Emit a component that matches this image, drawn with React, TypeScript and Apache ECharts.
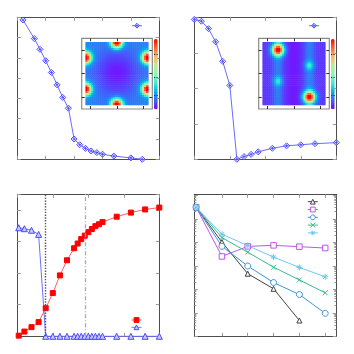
import React, { useEffect, useRef } from 'react';
import * as echarts from 'echarts';

// ---------- Panel 1 (top-left) ----------
const p1X = [0.2, 0.6, 0.8, 1.0, 1.2, 1.4, 1.6, 1.8, 2.0, 2.2, 2.4, 2.6, 2.8, 3.0, 3.4, 4.0, 4.4];
const p1Y = [6.87, 5.95, 5.42, 4.86, 4.28, 3.67, 3.05, 2.52, 1.0, 0.72, 0.54, 0.41, 0.33, 0.25, 0.16, 0.07, 0.0];

// ---------- Panel 2 (top-right) ----------
const p2X = [0, 0.2, 0.4, 0.6, 0.8, 1.0, 1.2, 1.4, 1.6, 1.8, 2.2, 2.6, 3.0, 3.4, 4.0];
const p2Y = [3.94, 3.89, 3.68, 3.31, 2.76, 2.08, 0.0, 0.075, 0.14, 0.21, 0.31, 0.38, 0.41, 0.44, 0.47];

// ---------- Panel 3 (bottom-left) ----------
const p3X = [0.04, 0.2, 0.4, 0.6, 0.8, 1.0, 1.2, 1.4, 1.6, 1.7, 1.8, 1.9, 2.0, 2.1, 2.2, 2.3, 2.4, 2.8, 3.2, 3.6, 4.0];
const p3Red = [0.02, 0.15, 0.29, 0.45, 0.89, 1.37, 1.93, 2.41, 2.79, 2.94, 3.08, 3.19, 3.3, 3.4, 3.49, 3.55, 3.62, 3.79, 3.92, 4.02, 4.08];
const p3Blue = [3.44, 3.41, 3.36, 3.23, 0, 0, 0, 0, 0, 0, 0, 0, 0, 0, 0, 0, 0, 0, 0, 0, 0];
const p3VLines = [0.8, 1.9];

// ---------- Panel 4 (bottom-right, log y) ----------
const p4X = [1, 2, 3, 4, 5, 6];
const p4Black = [0.31, 0.0102, 4.6e-4, 1.05e-4, 4.7e-6];
const p4Purple = [0.31, 2.5e-3, 6.7e-3, 7.4e-3, 6.5e-3, 5.7e-3];
const p4Blue = [0.31, 6.7e-3, 9.8e-4, 1.94e-4, 6.0e-5, 9.5e-6];
const p4Green = [0.31, 0.0158, 3.8e-3, 8.7e-4, 2.5e-4, 7.1e-5];
const p4Sky = [0.31, 0.022, 7.2e-3, 2.35e-3, 8.5e-4, 3.4e-4];
const p4XTicks = [2, 3, 4, 5, 6];
const p4Decades = [-6, -5, -4, -3, -2, -1, 0];

// ---------- Inset heat maps: features ----------
// spots: [u (0 left .. 1 right), v (0 top .. 1 bottom), amplitude, radius]
// bands: [u, amplitude, width]
const HEAT_N = 32;
const inset1Base = 0.18;
const inset1Spots = [
  [0.5, 0.0, 1.0, 0.064], [0.5, 1.0, 1.0, 0.064],
  [0.0, 0.25, 1.0, 0.064], [0.0, 0.75, 1.0, 0.064],
  [1.0, 0.25, 1.0, 0.064], [1.0, 0.75, 1.0, 0.064],
  [0.5, 0.5, -0.15, 0.26],
];
const inset1Bands: number[][] = [];
const inset2Base = 0.07;
const inset2Spots = [
  [0.25, 0.125, 0.95, 0.065], [0.75, 0.875, 0.95, 0.065],
  [0.75, 0.375, 0.22, 0.05], [0.25, 0.625, 0.2, 0.05],
];
const inset2Bands = [[0.25, 0.1, 0.055], [0.75, 0.1, 0.055], [0.5, -0.04, 0.08]];
const rainbow = ['#8000ff', '#4062fa', '#00b4ec', '#40ecd4', '#80ffb4', '#bfec8e', '#ffb462', '#ff6232', '#ff0000'];
const cbTicks = [0.2, 0.45, 0.78];

function buildField(base: number, spots: number[][], bands: number[][]) {
  const out: number[][] = [];
  for (let i = 0; i < HEAT_N; i++) {
    for (let j = 0; j < HEAT_N; j++) {
      const u = (i + 0.5) / HEAT_N;
      const v = (j + 0.5) / HEAT_N;
      let val = base;
      for (const [su, sv, a, s] of spots) val += a * Math.exp(-((u - su) ** 2 + (v - sv) ** 2) / (2 * s * s));
      for (const [bu, a, s] of bands) val += a * Math.exp(-((u - bu) ** 2) / (2 * s * s));
      out.push([i, j, Math.max(0, Math.min(1, val))]);
    }
  }
  return out;
}

const FRAME = '#4d4d4d';
const TICK = '#9a9a9a';

function frameAxis(gridIndex: number, position: string, min: number, max: number, interval?: number, custom?: number[], extra: any = {}) {
  const tick: any = { show: true, inside: true, length: 3.5, lineStyle: { color: TICK, width: 1 } };
  if (custom) tick.customValues = custom;
  return {
    type: 'value', gridIndex, position, min, max, interval,
    axisLine: { show: true, onZero: false, lineStyle: { color: FRAME, width: 1 } },
    axisTick: tick,
    axisLabel: { show: false },
    splitLine: { show: false },
    ...extra,
  };
}

function buildOption() {
  const grids: any[] = [];
  const xAxes: any[] = [];
  const yAxes: any[] = [];
  const addGrid = (g: any) => { grids.push({ outerBoundsMode: 'none', containLabel: false, ...g }); return grids.length - 1; };
  const addX = (a: any) => { xAxes.push(a); return xAxes.length - 1; };
  const addY = (a: any) => { yAxes.push(a); return yAxes.length - 1; };

  const S = 142;
  const L1 = 17.3, L2 = 194.3, T1 = 17.3, T2 = 194.3;

  const g1 = addGrid({ left: L1, top: T1, width: S, height: S });
  const g2 = addGrid({ left: L2, top: T1, width: S, height: S });
  const g3 = addGrid({ left: L1, top: T2, width: S, height: S });
  const g4 = addGrid({ left: L2, top: T2, width: S, height: S });

  const x1 = addX(frameAxis(g1, 'bottom', 0, 5, 1)); addX(frameAxis(g1, 'top', 0, 5, 1));
  const y1 = addY(frameAxis(g1, 'left', 0, 7, 1)); addY(frameAxis(g1, 'right', 0, 7, 1));
  const x2 = addX(frameAxis(g2, 'bottom', 0, 4, 1)); addX(frameAxis(g2, 'top', 0, 4, 1));
  const y2 = addY(frameAxis(g2, 'left', 0, 4, 1)); addY(frameAxis(g2, 'right', 0, 4, 1));
  const x3 = addX(frameAxis(g3, 'bottom', 0, 4, 1)); addX(frameAxis(g3, 'top', 0, 4, 1));
  const y3 = addY(frameAxis(g3, 'left', 0, 4.5, 1)); addY(frameAxis(g3, 'right', 0, 4.5, 1));
  const x4 = addX(frameAxis(g4, 'bottom', 0.93, 6.43, undefined, p4XTicks)); addX(frameAxis(g4, 'top', 0.93, 6.43, undefined, p4XTicks));
  const y4 = addY({ type: 'log', logBase: 10, gridIndex: g4, min: 1e-6, max: 1.1, position: 'left', axisLine: { show: false }, axisTick: { show: false }, axisLabel: { show: false }, splitLine: { show: false } });
  const topLog = Math.log10(1.1);
  const minors: number[] = [];
  for (let d = -6; d < 0; d++) for (let k = 2; k <= 9; k++) minors.push(d + Math.log10(k));
  const minorTick = { show: true, inside: true, length: 2, lineStyle: { color: TICK, width: 1 }, customValues: minors };
  addY(frameAxis(g4, 'left', -6, topLog, undefined, p4Decades));
  addY(frameAxis(g4, 'right', -6, topLog, undefined, p4Decades));
  addY(frameAxis(g4, 'left', -6, topLog, undefined, undefined, { axisLine: { show: false, onZero: false }, axisTick: minorTick }));
  addY(frameAxis(g4, 'right', -6, topLog, undefined, undefined, { axisLine: { show: false, onZero: false }, axisTick: minorTick }));

  const insetAxes = (left: number) => {
    const frameL = left + 64.4, frameT = 38.3;
    const gf = addGrid({ left: frameL, top: frameT, width: 70.6, height: 70.7, show: true, backgroundColor: '#ffffff', borderColor: '#8a8a8a', borderWidth: 1.2 });
    const inTick = (pos: string, isX: boolean) => ({
      type: 'value', gridIndex: gf, position: pos, min: -0.564, max: 0.564, z: 6,
      axisLine: { show: false, onZero: false },
      axisTick: { show: true, inside: true, length: 3, lineStyle: { color: '#333', width: 1 }, customValues: isX ? [-0.42, 0, 0.42] : [-0.38, 0, 0.38] },
      axisLabel: { show: false }, splitLine: { show: false },
    });
    addX(inTick('bottom', true)); addX(inTick('top', true));
    addY(inTick('left', false)); addY(inTick('right', false));
    const gh = addGrid({ left: frameL + 4, top: frameT + 4, width: 62.6, height: 62.7 });
    const cats = Array.from({ length: HEAT_N }, (_, i) => i);
    const hx = addX({ type: 'category', gridIndex: gh, data: cats, show: false });
    const hy = addY({ type: 'category', gridIndex: gh, data: cats, show: false, inverse: true });
    const cbL = frameL + 72.3;
    const gc = addGrid({ left: cbL, top: 39, width: 3.7, height: 70.3 });
    addX({ type: 'value', gridIndex: gc, min: 0, max: 1, show: false });
    const cbAxis = (pos: string) => ({
      type: 'value', gridIndex: gc, position: pos, min: 0, max: 1, z: 6,
      axisLine: { show: false, onZero: false },
      axisTick: { show: true, inside: true, length: 1.2, lineStyle: { color: '#333', width: 1 }, customValues: cbTicks },
      axisLabel: { show: false }, splitLine: { show: false },
    });
    addY(cbAxis('left')); addY(cbAxis('right'));
    return { hx, hy, cbL };
  };
  const in1 = insetAxes(L1);
  const in2 = insetAxes(L2);

  const zip = (xs: number[], ys: number[]) => ys.map((y, i) => [xs[i], y]);
  const styles: Record<string, { fill: string; stroke: string; line: string }> = {};
  const lineSeries = (name: string, xi: number, yi: number, data: number[][], fill: string, stroke: string, lineColor: string, symbol: string, size: number) => {
    styles[name] = { fill, stroke, line: lineColor };
    return {
      name, type: 'line', xAxisIndex: xi, yAxisIndex: yi, data, symbol, symbolSize: size,
      clip: false, silent: true,
      lineStyle: { color: lineColor, width: 1 },
      itemStyle: { color: fill, borderColor: stroke, borderWidth: 1 },
    };
  };

  const diamondPlus = 'path://M5,0L10,5L5,10L0,5Z M5,2.6L5,7.4 M2.6,5L7.4,5';
  const crossPath = 'path://M0,0L10,10 M10,0L0,10';
  const starPath = 'path://M5,0L5,10 M0,5L10,5 M1.5,1.5L8.5,8.5 M8.5,1.5L1.5,8.5';
  const W = '#ffffff';

  const series: any[] = [
    lineSeries('a1', x1, y1, zip(p1X, p1Y), 'rgba(255,255,255,0.4)', '#4848ff', '#6a6aff', diamondPlus, 6),
    lineSeries('a2', x2, y2, zip(p2X, p2Y), 'rgba(255,255,255,0.4)', '#4848ff', '#6a6aff', diamondPlus, 6),
    {
      ...lineSeries('r3', x3, y3, zip(p3X, p3Red), '#ff0000', '#ff0000', '#ff6060', 'rect', 5),
      markLine: {
        silent: true, symbol: 'none', label: { show: false },
        data: [
          { xAxis: p3VLines[0], lineStyle: { color: '#555555', type: 'dotted', width: 1.4 } },
          { xAxis: p3VLines[1], lineStyle: { color: '#aaaaaa', type: [4, 2, 1, 2], width: 1.3 } },
        ],
      },
    },
    lineSeries('b3', x3, y3, zip(p3X, p3Blue), '#c8c8ff', '#4a4aff', '#7070ff', 'triangle', 6),
    lineSeries('k4', x4, y4, zip(p4X, p4Black), W, '#404040', '#404040', 'triangle', 5),
    lineSeries('m4', x4, y4, zip(p4X, p4Purple), W, '#bb55ee', '#bb55ee', 'rect', 5.5),
    lineSeries('c4', x4, y4, zip(p4X, p4Blue), W, '#3d95d6', '#3d95d6', 'circle', 6),
    lineSeries('g4', x4, y4, zip(p4X, p4Green), '#38bb8c', '#38bb8c', '#38bb8c', crossPath, 5),
    lineSeries('s4', x4, y4, zip(p4X, p4Sky), '#70c8f0', '#70c8f0', '#70c8f0', starPath, 6),
    { type: 'heatmap', xAxisIndex: in1.hx, yAxisIndex: in1.hy, data: buildField(inset1Base, inset1Spots, inset1Bands), silent: true, progressive: 0, z: 2 },
    { type: 'heatmap', xAxisIndex: in2.hx, yAxisIndex: in2.hy, data: buildField(inset2Base, inset2Spots, inset2Bands), silent: true, progressive: 0, z: 2 },
  ];

  const item = (name: string) => ({
    name,
    itemStyle: { color: styles[name].fill, borderColor: styles[name].stroke, borderWidth: 1 },
    lineStyle: { color: styles[name].line, width: 1 },
  });
  const legendBase = { orient: 'vertical', itemWidth: 10, itemHeight: 6, padding: 0, formatter: () => '', textStyle: { fontSize: 1 }, selectedMode: false };
  const legend = [
    { ...legendBase, data: [item('a1')], left: 131.5, top: 22.7 },
    { ...legendBase, data: [item('a2')], left: 308.5, top: 22.7 },
    { ...legendBase, data: [item('r3'), item('b3')], left: 131, top: 317, itemGap: 1.4 },
    { ...legendBase, data: ['k4', 'm4', 'c4', 'g4', 's4'].map(item), left: 307.3, top: 198.7, itemGap: 1.9 },
  ];

  const vm = (seriesIndex: number, left: number) => ({
    type: 'continuous', seriesIndex, min: 0, max: 1, left, top: 39, itemWidth: 3.7, itemHeight: 70.3,
    calculable: false, padding: 0, inRange: { color: rainbow }, text: null, z: 4,
  });

  return {
    animation: false,
    backgroundColor: '#ffffff',
    grid: grids,
    xAxis: xAxes,
    yAxis: yAxes,
    legend,
    visualMap: [vm(9, in1.cbL), vm(10, in2.cbL)],
    series,
  };
}

export default function App() {
  const ref = useRef<HTMLDivElement>(null);
  useEffect(() => {
    if (!ref.current) return;
    const chart = echarts.init(ref.current, undefined, { renderer: 'svg' });
    chart.setOption(buildOption() as any);
    return () => chart.dispose();
  }, []);
  return <div ref={ref} style={{ position: 'absolute', left: 0, top: 0, width: 354, height: 354 }} />;
}
